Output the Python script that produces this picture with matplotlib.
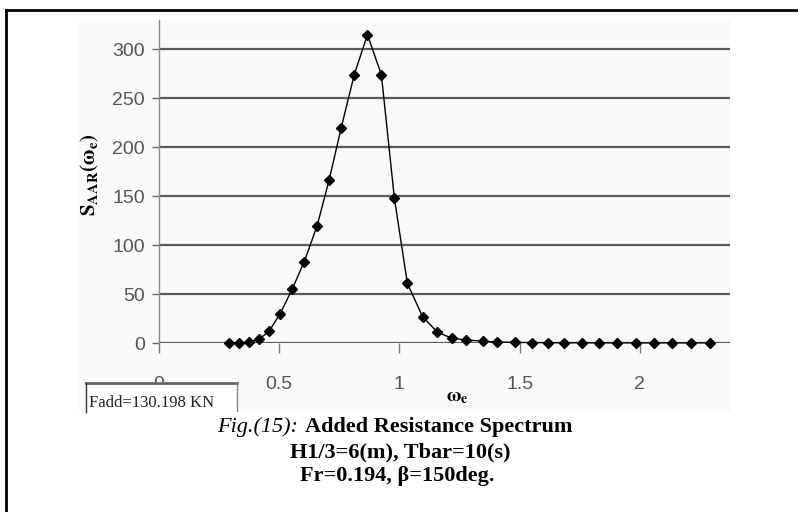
import matplotlib
matplotlib.use("Agg")
import matplotlib.pyplot as plt
from matplotlib.lines import Line2D
from matplotlib.patches import Rectangle

plt.rcParams["mathtext.fontset"] = "stix"

# encounter frequency (rad/s) and added resistance spectrum values
omega_e = [0.292, 0.333, 0.375, 0.417, 0.458, 0.504, 0.554, 0.604, 0.658, 0.708,
           0.758, 0.812, 0.867, 0.925, 0.979, 1.033, 1.096, 1.158, 1.217, 1.279,
           1.346, 1.404, 1.479, 1.550, 1.617, 1.683, 1.758, 1.829, 1.904, 1.983,
           2.058, 2.133, 2.212, 2.292]
s_aar = [0.2, 0.3, 0.8, 4, 12, 30, 55, 83, 120, 167,
         220, 274, 315, 274, 148, 61, 27, 11, 5, 3,
         2, 1, 0.6, 0.4, 0.3, 0.2, 0.2, 0.1, 0.1, 0.1,
         0.1, 0.1, 0.1, 0.1]

y_ticks = [0, 50, 100, 150, 200, 250, 300]
x_ticks = [0, 0.5, 1, 1.5, 2]
x_ticklabels = ["0", "0.5", "1", "1.5", "2"]

W, H = 798, 512
fig = plt.figure(figsize=(W / 100, H / 100), dpi=100)


def px(x, y):
    # pixel coords (top-left origin) -> figure fraction
    return x / W, 1 - y / H


# faint chart-area background
fig.patches.append(Rectangle(px(78, 412), (731 - 78) / W, (412 - 20) / H,
                             transform=fig.transFigure, facecolor="#fafafa",
                             edgecolor="none", zorder=-5))

# outer frame (left + top only)
fig.add_artist(Line2D([6 / W, 6 / W], [0, 1 - 10 / H], color="black", lw=2))
fig.add_artist(Line2D([6 / W, 1], [1 - 10 / H, 1 - 10 / H], color="black", lw=2))

# plot area: omega 0 at x=159, 2.375 at x=730 ; S=0 at y=343, 330 at y=20
ax = fig.add_axes([159 / W, 1 - 343 / H, (730 - 159) / W, (343 - 20) / H])
ax.set_facecolor("none")
ax.set_xlim(0, 2.375)
ax.set_ylim(0, 330)

for v in y_ticks:
    ax.axhline(v, color="#5a5a5a", lw=1.6, zorder=1)

ax.plot(omega_e, s_aar, color="black", lw=1.0, marker="D", markersize=5.5,
        markerfacecolor="black", markeredgecolor="black", zorder=3, clip_on=False)

for side in ["top", "right", "bottom"]:
    ax.spines[side].set_visible(False)
ax.spines["left"].set_color("#888888")
ax.spines["left"].set_linewidth(1.0)

ax.set_yticks(y_ticks)
ax.set_yticklabels([str(v) for v in y_ticks])
ax.set_xticks(x_ticks)
ax.set_xticklabels(x_ticklabels)
ax.tick_params(axis="y", length=5, width=1, color="#666666", pad=5,
               labelsize=14, labelcolor="#555555")
ax.tick_params(axis="x", length=7, width=1, color="#777777", pad=17,
               labelsize=14, labelcolor="#555555")
for lab in ax.get_xticklabels() + ax.get_yticklabels():
    lab.set_family("Liberation Sans")

fig.text(*px(90, 175), r"$\mathbf{S_{AAR}(\omega_e)}$", rotation=90,
         ha="center", va="center", fontsize=15)
fig.text(*px(457, 397), r"$\mathbf{\omega_e}$", ha="center", va="center", fontsize=14)

# Fadd box covering part of the "0" label
fig.add_artist(Rectangle(px(86, 412), (237 - 86) / W, (412 - 383) / H,
                         transform=fig.transFigure, facecolor="white",
                         edgecolor="none", zorder=5))
fig.add_artist(Line2D([86 / W, 237 / W], [1 - 383 / H] * 2, color="#666666", lw=2, zorder=6))
fig.add_artist(Line2D([86 / W] * 2, [1 - 383 / H, 1 - 412 / H], color="#333333", lw=1, zorder=6))
fig.add_artist(Line2D([237 / W] * 2, [1 - 383 / H, 1 - 412 / H], color="#888888", lw=1, zorder=6))
fig.text(*px(89, 403), "Fadd=130.198 KN", ha="left", va="center",
         fontsize=12, family="Liberation Serif", color="#222222", zorder=7)

# caption block
fig.add_artist(Rectangle(px(217, 502), (593 - 217) / W, (502 - 412) / H,
                         transform=fig.transFigure, facecolor="white",
                         edgecolor="none", zorder=8))
cap_kw = dict(va="center", fontsize=16, family="Liberation Serif", zorder=9)
part1 = fig.text(*px(217, 427), "Fig.(15):", ha="left", style="italic", **cap_kw)
r = fig.canvas.get_renderer()
x_end = part1.get_window_extent(r).x1 / W
fig.text(x_end + 7 / W, 1 - 427 / H, "Added Resistance Spectrum", ha="left",
         weight="bold", **cap_kw)
fig.text(*px(400, 452), "H1/3=6(m), Tbar=10(s)", ha="center", weight="bold", **cap_kw)
fig.text(*px(397, 476), "Fr=0.194, β=150deg.", ha="center", weight="bold", **cap_kw)

fig.savefig("out.png", dpi=100)
